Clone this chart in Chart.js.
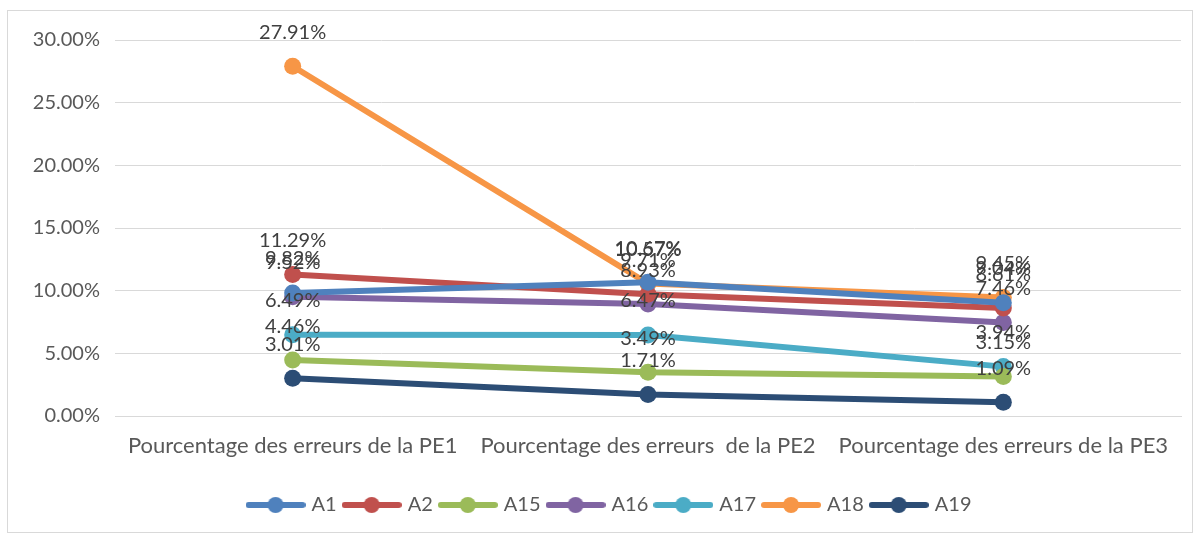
<!DOCTYPE html>
<html>
<head>
<meta charset="utf-8">
<script src="https://cdn.jsdelivr.net/npm/chart.js@4.4.1/dist/chart.umd.min.js"></script>
<style>
    body { margin: 0; background: #fff; }
    #frame { position: absolute; left: 7px; top: 10px; width: 1184px; height: 521px; border: 1px solid #d9d9d9; }
    #wrap { position: absolute; left: 0; top: 0; width: 1200px; height: 533px; }
</style>
</head>
<body>
<div id="frame"></div>
<div id="wrap"><canvas id="errChart" width="1200" height="533"></canvas></div>
<script>
// categories
const categories = [
    'Pourcentage des erreurs de la PE1',
    'Pourcentage des erreurs  de la PE2',
    'Pourcentage des erreurs de la PE3'
];

// series (in %)
const a1 = [9.82, 10.67, 9.04];
const a2 = [11.29, 9.71, 8.61];
const a15 = [4.46, 3.49, 3.15];
const a16 = [9.52, 8.93, 7.46];
const a17 = [6.49, 6.47, 3.94];
const a18 = [27.91, 10.57, 9.45];
const a19 = [3.01, 1.71, 1.09];

const seriesNames = ['A1', 'A2', 'A15', 'A16', 'A17', 'A18', 'A19'];
const seriesData = [a1, a2, a15, a16, a17, a18, a19];
const seriesColors = ['#4f81bd', '#c0504d', '#9bbb59', '#8064a2', '#4bacc6', '#f79646', '#2c4d75'];

// y ticks
const yMin = 0;
const yMax = 30;
const yStep = 5;

const FONT = 'Lato, "Open Sans", sans-serif';

// petit marqueur ligne + rond pour la légende
function legendMarker(color) {
    const c = document.createElement('canvas');
    c.width = 60; c.height = 18;
    const g = c.getContext('2d');
    g.strokeStyle = color;
    g.lineWidth = 6;
    g.lineCap = 'round';
    g.beginPath(); g.moveTo(3, 9); g.lineTo(57, 9); g.stroke();
    g.fillStyle = color;
    g.beginPath(); g.arc(30, 9, 8, 0, Math.PI * 2); g.fill();
    return c;
}

// étiquettes de valeurs au-dessus des points
const valueLabels = {
    id: 'valueLabels',
    afterDatasetsDraw(chart) {
        const ctx = chart.ctx;
        ctx.save();
        ctx.font = '20px ' + FONT;
        ctx.fillStyle = '#404040';
        ctx.textAlign = 'center';
        ctx.textBaseline = 'middle';
        chart.data.datasets.forEach((ds, i) => {
            chart.getDatasetMeta(i).data.forEach((pt, j) => {
                ctx.fillText(ds.data[j].toFixed(2) + '%', pt.x, pt.y - 34);
            });
        });
        ctx.restore();
    }
};

// décale un peu la légende vers la droite
const legendShift = {
    id: 'legendShift',
    afterLayout(chart) {
        if (chart.legend) {
            chart.legend.left += 20;
            chart.legend.right += 20;
        }
    }
};

new Chart(document.getElementById('errChart').getContext('2d'), {
    type: 'line',
    data: {
        labels: categories,
        datasets: seriesNames.map((name, i) => ({
            label: name,
            data: seriesData[i],
            borderColor: seriesColors[i],
            backgroundColor: seriesColors[i],
            borderWidth: 6,
            pointRadius: 8.5,
            pointBackgroundColor: seriesColors[i],
            pointBorderWidth: 0,
            pointStyle: 'circle',
            tension: 0,
            fill: false
        }))
    },
    options: {
        responsive: false,
        animation: false,
        layout: { padding: { left: 0, right: 19, top: 40, bottom: 8 } },
        plugins: {
            tooltip: { enabled: false },
            legend: {
                position: 'bottom',
                labels: {
                    usePointStyle: true,
                    pointStyleWidth: 52,
                    padding: 9,
                    color: '#595959',
                    font: { family: FONT, size: 20 },
                    generateLabels(chart) {
                        return chart.data.datasets.map((ds, i) => ({
                            text: ds.label,
                            fillStyle: ds.borderColor,
                            strokeStyle: ds.borderColor,
                            lineWidth: 0,
                            pointStyle: legendMarker(ds.borderColor),
                            fontColor: '#595959',
                            hidden: false,
                            datasetIndex: i
                        }));
                    }
                }
            }
        },
        scales: {
            x: {
                offset: true,
                grid: { display: false, drawTicks: false },
                border: { display: true, color: '#d9d9d9', width: 1 },
                ticks: {
                    padding: 17,
                    color: '#595959',
                    font: { family: FONT, size: 22 },
                    maxRotation: 0,
                    autoSkip: false
                },
                afterFit(scale) { scale.height = 70; }
            },
            y: {
                min: yMin,
                max: yMax,
                grid: { color: '#d9d9d9', lineWidth: 1, drawTicks: false },
                border: { display: false },
                ticks: {
                    stepSize: yStep,
                    padding: 15,
                    color: '#595959',
                    font: { family: FONT, size: 20 },
                    callback: v => v.toFixed(2) + '%'
                },
                afterFit(scale) { scale.width = 115; }
            }
        }
    },
    plugins: [valueLabels, legendShift]
});
</script>
</body>
</html>
